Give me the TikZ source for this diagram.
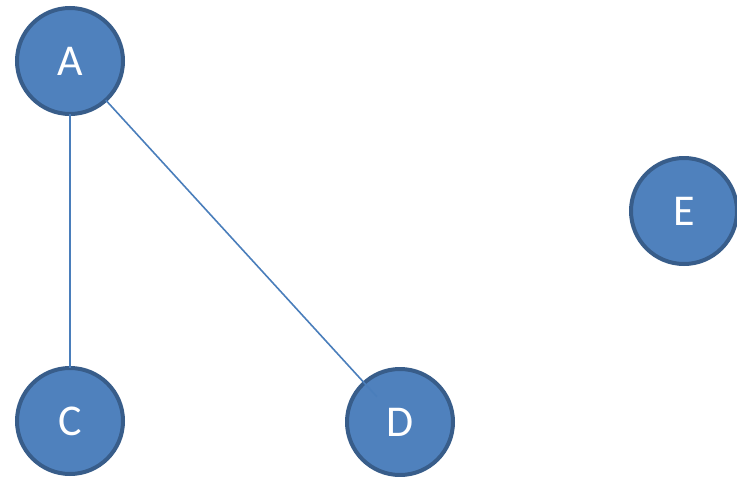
\documentclass[tikz,border=0pt]{standalone}
\usepackage{fontspec}
\setmainfont{Carlito}
\usetikzlibrary{calc}
\definecolor{nodefill}{HTML}{4F81BD}
\definecolor{nodeborder}{HTML}{385D8A}
\definecolor{edgecol}{HTML}{4A7EBB}
\begin{document}
\begin{tikzpicture}[x=1pt,y=-1pt,
  vert/.style={circle,fill=nodefill,draw=nodeborder,line width=4pt,minimum size=106pt,inner sep=0pt,outer sep=0pt,text=white,font=\fontsize{44}{44}\selectfont},
  edge/.style={draw=edgecol,line width=1.6pt}]
\useasboundingbox (0,0) rectangle (737,477);
\node[vert] (A) at (70,61) {A};
\node[vert] (E) at (684,211) {E};
\node[vert] (C) at (70,421) {C};
\node[vert] (D) at (400,422) {D};
\coordinate (dEnd) at ($(A)!0.93!(D)$);
\draw[edge] (A) -- (C);
\draw[edge] (A) -- (dEnd);
\end{tikzpicture}
\end{document}
